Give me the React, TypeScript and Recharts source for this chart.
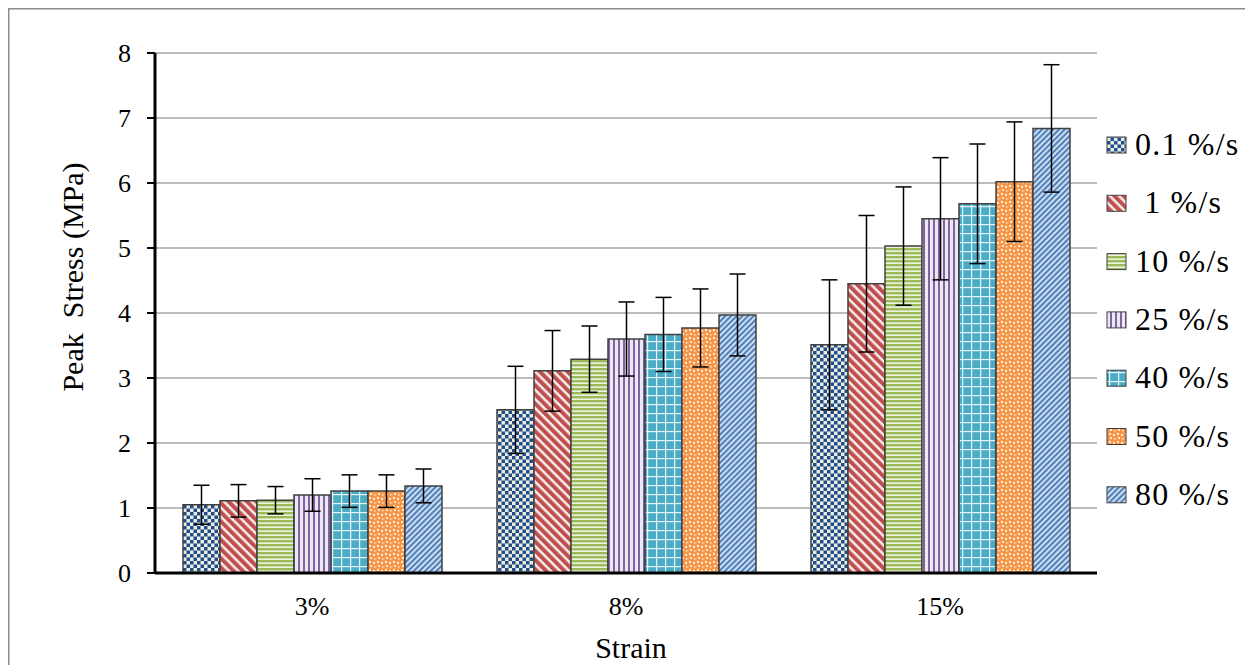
import React from 'react';
import { BarChart, Bar, XAxis, YAxis, CartesianGrid, ErrorBar, Legend, Label } from 'recharts';

const strains = ['3%', '8%', '15%'];
const rateLabels = ['0.1 %/s', ' 1 %/s', '10 %/s', '25 %/s', '40 %/s', '50 %/s', '80 %/s'];
const yTicks = [0, 1, 2, 3, 4, 5, 6, 7, 8];

const rate01 = [1.05, 2.51, 3.51];
const rate1 = [1.11, 3.11, 4.45];
const rate10 = [1.12, 3.29, 5.03];
const rate25 = [1.2, 3.6, 5.45];
const rate40 = [1.26, 3.67, 5.68];
const rate50 = [1.26, 3.77, 6.02];
const rate80 = [1.34, 3.97, 6.84];

const err01 = [0.3, 0.67, 1.0];
const err1 = [0.25, 0.62, 1.05];
const err10 = [0.21, 0.51, 0.91];
const err25 = [0.25, 0.57, 0.94];
const err40 = [0.25, 0.57, 0.92];
const err50 = [0.25, 0.6, 0.92];
const err80 = [0.26, 0.63, 0.98];

const seriesValues = [rate01, rate1, rate10, rate25, rate40, rate50, rate80];
const seriesErrors = [err01, err1, err10, err25, err40, err50, err80];

const data = strains.map((s, i) => {
  const row: Record<string, any> = { strain: s };
  seriesValues.forEach((vals, k) => {
    row[`s${k}`] = vals[i];
    row[`e${k}`] = seriesErrors[k][i];
  });
  return row;
});

const FONT = "'Liberation Serif', 'Times New Roman', serif";

const Patterns = ({ p }: { p: string }) => (
  <defs>
    <pattern id={`${p}0`} width={7} height={7} patternUnits="userSpaceOnUse">
      <rect width={7} height={7} fill="#eeece1" />
      <rect width={3.5} height={3.5} fill="#1f4e8c" />
      <rect x={3.5} y={3.5} width={3.5} height={3.5} fill="#1f4e8c" />
    </pattern>
    <pattern id={`${p}1`} width={6.5} height={6.5} patternUnits="userSpaceOnUse" patternTransform="rotate(-45)">
      <rect width={6.5} height={6.5} fill="#f7ecec" />
      <rect width={4} height={6.5} fill="#c0504d" />
    </pattern>
    <pattern id={`${p}2`} width={4} height={4} patternUnits="userSpaceOnUse">
      <rect width={4} height={4} fill="#eef2e2" />
      <rect width={4} height={2.4} fill="#9bbb59" />
    </pattern>
    <pattern id={`${p}3`} width={5} height={5} patternUnits="userSpaceOnUse">
      <rect width={5} height={5} fill="#ece8f1" />
      <rect width={2} height={5} fill="#8064a2" />
    </pattern>
    <pattern id={`${p}4`} width={9} height={9} patternUnits="userSpaceOnUse">
      <rect width={9} height={9} fill="#4bacc6" />
      <rect width={1.2} height={9} fill="#e8f4f8" />
      <rect width={9} height={1.2} fill="#e8f4f8" />
    </pattern>
    <pattern id={`${p}5`} width={8} height={8} patternUnits="userSpaceOnUse">
      <rect width={8} height={8} fill="#f79646" />
      <rect x={1} y={1} width={2} height={2} fill="#fde9d9" />
      <rect x={5} y={2} width={2} height={2} fill="#fde9d9" />
      <rect x={2} y={5} width={2} height={2} fill="#fde9d9" />
      <rect x={6} y={6} width={1.5} height={1.5} fill="#fde9d9" />
    </pattern>
    <pattern id={`${p}6`} width={4} height={4} patternUnits="userSpaceOnUse" patternTransform="rotate(45)">
      <rect width={4} height={4} fill="#dde7f3" />
      <rect width={2.2} height={4} fill="#4f81bd" />
    </pattern>
  </defs>
);

const LegendBox = () => (
  <svg width={155} height={420} style={{ display: 'block', overflow: 'visible' }}>
    <Patterns p="lg" />
    {rateLabels.map((lbl, i) => {
      const base = 35 + 58.3 * i;
      return (
        <g key={i}>
          <rect x={7} y={base - 18} width={19} height={16} fill={`url(#lg${i})`} stroke="#404040" strokeWidth={1} />
          <text x={35} y={base} fontFamily={FONT} fontSize={32} letterSpacing={1.2} fill="#000" style={{ whiteSpace: 'pre' }}>
            {lbl}
          </text>
        </g>
      );
    })}
  </svg>
);

const YLabel = (props: any) => {
  const vb = props.viewBox || { x: 0, y: 0, width: 0, height: 0 };
  const x = vb.x + 75;
  const y = vb.y + vb.height / 2 - 36;
  return (
    <text x={x} y={y} transform={`rotate(-90, ${x}, ${y})`} textAnchor="middle" fontFamily={FONT} fontSize={30} fill="#000" style={{ whiteSpace: 'pre' }}>
      {'Peak  Stress (MPa)'}
    </text>
  );
};

const XLabel = (props: any) => {
  const vb = props.viewBox || { x: 0, y: 0, width: 0, height: 0 };
  return (
    <text x={vb.x + vb.width / 2 + 5} y={vb.y + 85} textAnchor="middle" fontFamily={FONT} fontSize={30} fill="#000">
      Strain
    </text>
  );
};

export default function App() {
  return (
    <div style={{ width: 1245, height: 657 }}>
      <style>{`html{overflow:hidden;}`}</style>
      <BarChart
        width={1245}
        height={657}
        data={data}
        margin={{ top: 45, right: 156, bottom: 32, left: 0 }}
        barCategoryGap={28}
        barGap={0}
      >
        <Patterns p="bp" />
        <g className="frame">
          <line x1={0} y1={0.75} x2={1245} y2={0.75} stroke="#8c8c8c" strokeWidth={1.5} />
          <line x1={0.75} y1={0} x2={0.75} y2={657} stroke="#8c8c8c" strokeWidth={1.5} />
        </g>
        <CartesianGrid vertical={false} stroke="#a6a6a6" strokeWidth={1.3} />
        <XAxis
          dataKey="strain"
          height={60}
          tickLine={false}
          tickSize={0}
          tickMargin={24}
          axisLine={{ stroke: '#000', strokeWidth: 3 }}
          tick={{ fontFamily: FONT, fontSize: 26, fill: '#000' }}
        >
          <Label content={XLabel} />
        </XAxis>
        <YAxis
          width={147}
          domain={[0, 8]}
          ticks={yTicks}
          interval={0}
          tickSize={8}
          tickMargin={16}
          axisLine={{ stroke: '#000', strokeWidth: 3 }}
          tickLine={{ stroke: '#000', strokeWidth: 2 }}
          tick={{ fontFamily: FONT, fontSize: 26, fill: '#000' }}
        >
          <Label content={YLabel} />
        </YAxis>
        <Legend
          layout="vertical"
          align="center"
          verticalAlign="middle"
          wrapperStyle={{ left: 1092, top: 112, width: 155, height: 420 }}
          content={() => <LegendBox />}
        />
        {rateLabels.map((lbl, k) => (
          <Bar
            key={k}
            dataKey={`s${k}`}
            name={lbl}
            fill={`url(#bp${k})`}
            stroke="#404040"
            strokeWidth={1.5}
            isAnimationActive={false}
          >
            <ErrorBar dataKey={`e${k}`} width={8} stroke="#000" strokeWidth={1.5} />
          </Bar>
        ))}
      </BarChart>
    </div>
  );
}
